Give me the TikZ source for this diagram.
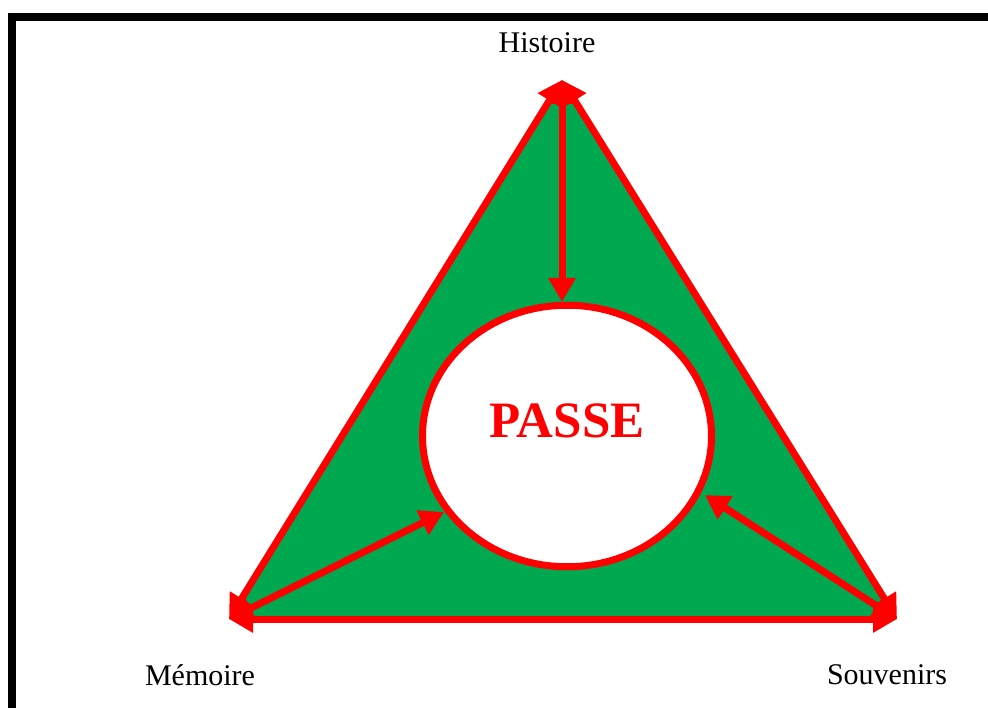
\documentclass[tikz,border=0pt]{standalone}
\usepackage{fontspec}
\setmainfont{Liberation Serif}
\usetikzlibrary{arrows.meta,shapes.geometric}
\definecolor{tgreen}{RGB}{0,168,80}
\begin{document}
\begin{tikzpicture}[x=1pt,y=-1pt,
  edge/.style={red, line width=7pt,
    {Triangle[length=24pt,width=26pt]}-{Triangle[length=24pt,width=26pt]}},
  lbl/.style={font=\fontsize{30}{36}\selectfont, anchor=base, inner sep=0pt}]
\useasboundingbox (0,0) rectangle (988,708);
\draw[line width=8pt] (12,712) -- (12,17) -- (992,17);
\coordinate (H) at (562,80);
\coordinate (M) at (229,619);
\coordinate (S) at (897,619);
\fill[tgreen] (H) -- (S) -- (M) -- cycle;
\node[ellipse, draw=red, fill=white, line width=7pt, minimum width=289pt,
      minimum height=261.5pt, inner sep=0pt, outer sep=0pt] (P) at (567,436) {};
\node[font=\bfseries\fontsize{51}{60}\selectfont, text=red, anchor=base, inner sep=0pt]
      (T) at (567,438) {PASSE};
\coordinate (Pt) at (562,302);
\coordinate (Pm) at (444,512);
\coordinate (Ps) at (705,495);
\draw[edge] (H) -- (Pt);
\draw[edge] (M) -- (Pm);
\draw[edge] (S) -- (Ps);
\draw[edge] (M) -- (H);
\draw[edge] (H) -- (S);
\draw[edge] (M) -- (S);
\node[lbl] (LH) at (547,53) {Histoire};
\node[lbl] (LM) at (200,685) {Mémoire};
\node[lbl] (LS) at (887,684) {Souvenirs};
\end{tikzpicture}
\end{document}
